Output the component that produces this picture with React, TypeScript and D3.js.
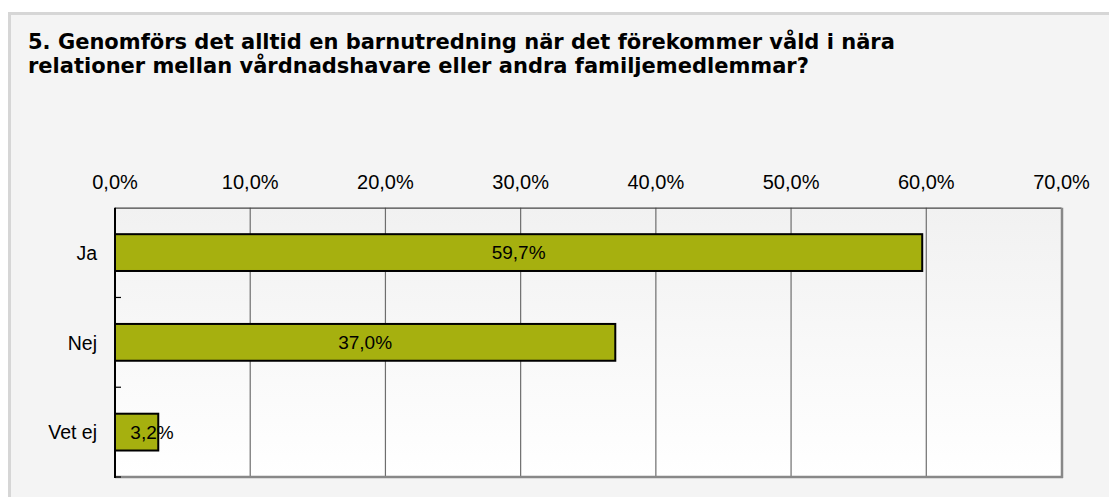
import React from "react";
import * as d3 from "d3";

const categories = ["Ja", "Nej", "Vet ej"];
const values = [59.7, 37.0, 3.2];
const tickValues = [0, 10, 20, 30, 40, 50, 60, 70];
const titleLines = [
  "5. Genomförs det alltid en barnutredning när det förekommer våld i nära",
  "relationer mellan vårdnadshavare eller andra familjemedlemmar?",
];

const fmt = (v: number) => v.toFixed(1).replace(".", ",") + "%";

export default function App() {
  const W = 1109;
  const H = 497;
  const left = 115;
  const right = 1061.5;
  const top = 207.7;
  const bottom = 477;

  const x = d3.scaleLinear().domain([0, 70]).range([left, right]);
  const y = d3.scaleBand<string>().domain(categories).range([top, bottom]).paddingInner(0.59).paddingOuter(0.295);
  const band = d3.scaleBand<string>().domain(categories).range([top, bottom]);

  const labelFont = "'Liberation Sans', Arial, sans-serif";

  return (
    <svg width={W} height={H} style={{ position: "absolute", left: 0, top: 0 }}>
      <defs>
        <linearGradient id="plotbg" x1="0" y1="0" x2="0" y2="1">
          <stop offset="0" stopColor="#f1f1f1" />
          <stop offset="1" stopColor="#ffffff" />
        </linearGradient>
      </defs>
      <rect x={0} y={0} width={W} height={H} fill="#ffffff" />
      <rect x={9.5} y={13.5} width={W + 20} height={H + 20} fill="#f4f4f4" stroke="#d6d6d6" strokeWidth={3} />
      {titleLines.map((t, i) => (
        <text
          key={i}
          x={28}
          y={49 + i * 24}
          fontFamily="'DejaVu Sans', Verdana, sans-serif"
          fontWeight="bold"
          fontSize={21}
          fill="#000"
        >
          {t}
        </text>
      ))}
      {/* plot background */}
      <rect x={left} y={top} width={right - left} height={bottom - top} fill="url(#plotbg)" />
      {/* gridlines */}
      {tickValues.slice(1, -1).map((v) => (
        <line key={v} x1={x(v)} x2={x(v)} y1={top} y2={bottom} stroke="#6e6e6e" strokeWidth={1.2} />
      ))}
      {/* frame */}
      <line x1={left} x2={right} y1={top + 0.5} y2={top + 0.5} stroke="#444" strokeWidth={1.2} />
      <line x1={right + 0.5} x2={right + 0.5} y1={top} y2={bottom + 1} stroke="#888" strokeWidth={2.5} />
      <line x1={left} x2={right + 1.5} y1={bottom} y2={bottom} stroke="#888" strokeWidth={2.5} />
      {/* bars */}
      {categories.map((c, i) => (
        <rect
          key={c}
          x={x(0)}
          y={y(c)!}
          width={x(values[i]) - x(0)}
          height={y.bandwidth()}
          fill="#a6b00f"
          stroke="#000"
          strokeWidth={2}
        />
      ))}
      {/* left axis */}
      <line x1={left} x2={left} y1={top} y2={bottom + 1} stroke="#000" strokeWidth={2} />
      {categories.slice(1).concat(["__end"]).map((c, i) => {
        const yy = top + band.step() * (i + 1);
        return <line key={c} x1={left} x2={left + 6} y1={yy} y2={yy} stroke="#000" strokeWidth={1.2} />;
      })}
      {/* tick labels */}
      {tickValues.map((v) => (
        <text key={v} x={x(v)} y={189} textAnchor="middle" fontFamily={labelFont} fontSize={20} fill="#000">
          {fmt(v)}
        </text>
      ))}
      {/* category labels */}
      {categories.map((c) => (
        <text
          key={c}
          x={97}
          y={band(c)! + band.bandwidth() / 2}
          dy="0.37em"
          textAnchor="end"
          fontFamily={labelFont}
          fontSize={19.5}
          fill="#000"
        >
          {c}
        </text>
      ))}
      {/* value labels */}
      {categories.map((c, i) => {
        const xc = (x(0) + x(values[i])) / 2;
        return (
          <text
            key={c}
            x={Math.max(xc, x(0) + 37)}
            y={y(c)! + y.bandwidth() / 2}
            dy="0.36em"
            textAnchor="middle"
            fontFamily={labelFont}
            fontSize={19}
            fill="#000"
          >
            {fmt(values[i])}
          </text>
        );
      })}
    </svg>
  );
}
